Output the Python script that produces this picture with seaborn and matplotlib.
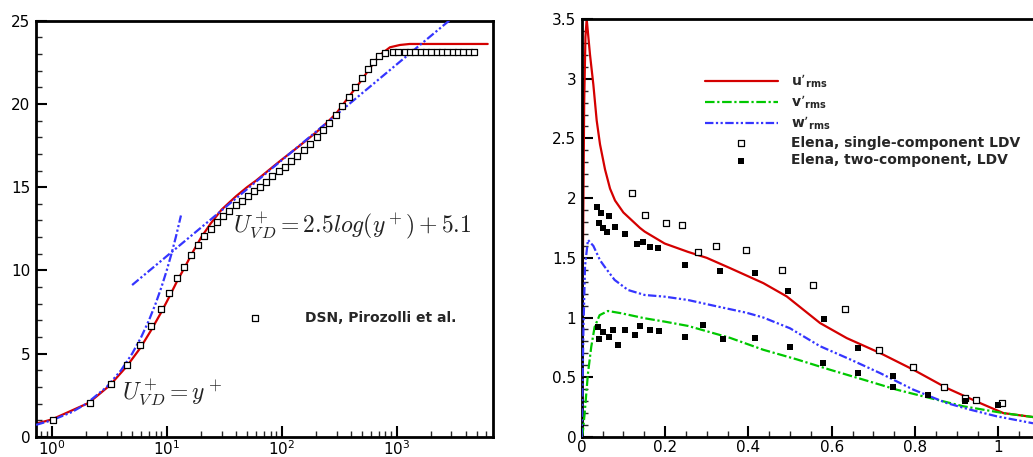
import numpy as np
import matplotlib
matplotlib.use("Agg")
import matplotlib.pyplot as plt
import matplotlib.ticker as mticker
import seaborn as sns

# ---------------- left panel: mean velocity profile ----------------
# computed profile (y+, U+_VD)
les_yplus = [0.73, 1.0, 2.1, 3.2, 4.5, 5.9, 7.3, 8.9, 10.5, 12.3, 14.5, 17, 20, 24, 30,
             40, 50, 60, 75, 100, 144, 200, 250, 300, 367, 480, 586, 716, 875, 1069,
             1300, 6200]
les_u = [0.8, 1.05, 2.05, 3.1, 4.25, 5.35, 6.4, 7.45, 8.4, 9.35, 10.25, 11.15, 12.0,
         12.8, 13.65, 14.45, 15.0, 15.4, 15.95, 16.65, 17.5, 18.3, 18.9, 19.45, 20.25,
         21.3, 22.15, 22.94, 23.4, 23.54, 23.6, 23.6]

# DNS reference data
dns_yplus = [1.03, 2.13, 3.27, 4.5, 5.89, 7.29, 8.85, 10.4, 12.2, 14.1, 16.3, 18.7, 21.2,
             24.1, 27.4, 31.1, 35.1, 39.8, 45.2, 51, 58, 64.9, 73.2, 83.2, 94.4, 106,
             121, 137, 156, 178, 201, 227, 259, 296, 337, 385, 437, 496, 563, 626, 706,
             796, 923, 1026, 1175, 1306, 1452, 1617, 1797, 1999, 2228, 2477, 2754, 3068,
             3412, 3795, 4227, 4700]
dns_u = [1.0, 2.04, 3.2, 4.3, 5.52, 6.64, 7.68, 8.62, 9.52, 10.2, 10.9, 11.5, 12.06,
         12.48, 12.9, 13.28, 13.6, 13.92, 14.18, 14.5, 14.76, 15.0, 15.34, 15.68, 15.96,
         16.22, 16.56, 16.88, 17.24, 17.6, 18.0, 18.44, 18.84, 19.34, 19.88, 20.44,
         21.04, 21.56, 22.08, 22.54, 22.88, 23.04, 23.1, 23.1, 23.1, 23.1, 23.1, 23.1,
         23.1, 23.1, 23.1, 23.1, 23.1, 23.1, 23.1, 23.1, 23.1, 23.1]

# wall laws: U+ = y+ (viscous sublayer) and U+ = 2.5 ln(y+) + 5.1 (log layer)
visc_yplus = [0.73, 1.0, 1.5, 2.0, 3.0, 4.0, 5.0, 6.0, 7.0, 8.0, 9.0, 10.0, 11.0, 12.0, 13.3]
log_yplus = [5.0, 3400.0]
kappa_inv = 2.5
log_const = 5.1

# ---------------- right panel: rms velocity fluctuations ----------------
urms_x = [0, 0.003, 0.006, 0.009, 0.012, 0.02, 0.028, 0.036, 0.044, 0.056, 0.068, 0.08,
          0.1, 0.14, 0.151, 0.199, 0.255, 0.3, 0.356, 0.436, 0.492, 0.572, 0.636, 0.716,
          0.796, 0.876, 0.956, 1.012, 1.083]
urms_y = [0, 1.5, 2.8, 3.35, 3.5, 3.2, 2.95, 2.65, 2.45, 2.24, 2.08, 1.98, 1.88, 1.75,
          1.72, 1.62, 1.55, 1.5, 1.414, 1.288, 1.177, 0.954, 0.828, 0.703, 0.563, 0.41,
          0.284, 0.2, 0.167]

vrms_x = [0, 0.003, 0.0072, 0.015, 0.023, 0.031, 0.043, 0.063, 0.095, 0.151, 0.199,
          0.255, 0.356, 0.436, 0.516, 0.596, 0.676, 0.756, 0.836, 0.916, 1.012, 1.083]
vrms_y = [0, 0.05, 0.2, 0.53, 0.756, 0.92, 1.02, 1.055, 1.036, 0.994, 0.966, 0.93, 0.83,
          0.73, 0.65, 0.563, 0.48, 0.396, 0.326, 0.257, 0.2, 0.167]

wrms_x = [0, 0.002, 0.004, 0.008, 0.015, 0.028, 0.044, 0.055, 0.079, 0.111, 0.151, 0.199,
          0.255, 0.316, 0.396, 0.436, 0.5, 0.572, 0.644, 0.716, 0.796, 0.876, 0.932,
          0.996, 1.083]
wrms_y = [0, 0.4, 0.87, 1.43, 1.65, 1.6, 1.48, 1.426, 1.315, 1.231, 1.189, 1.175, 1.147,
          1.1, 1.04, 1.0, 0.91, 0.76, 0.65, 0.535, 0.396, 0.284, 0.229, 0.173, 0.115]

# Elena, single-component LDV
ldv1_x = [0.12, 0.152, 0.2015, 0.2407, 0.279, 0.322, 0.395, 0.48, 0.554, 0.633, 0.714,
          0.796, 0.870, 0.92, 0.947, 1.009]
ldv1_y = [2.04, 1.861, 1.794, 1.772, 1.548, 1.603, 1.564, 1.40, 1.272, 1.074, 0.725,
          0.583, 0.418, 0.325, 0.307, 0.287]

# Elena, two-component LDV (streamwise and wall-normal components)
ldv2_u_x = [0.037, 0.047, 0.065, 0.042, 0.052, 0.061, 0.081, 0.103, 0.132, 0.146, 0.165,
            0.184, 0.249, 0.333, 0.417, 0.494, 0.582, 0.662, 0.746, 0.831, 0.92, 1.0]
ldv2_u_y = [1.923, 1.873, 1.85, 1.79, 1.75, 1.717, 1.76, 1.697, 1.616, 1.633, 1.588,
            1.58, 1.44, 1.389, 1.372, 1.221, 0.987, 0.745, 0.51, 0.351, 0.304, 0.268]
ldv2_v_x = [0.039, 0.042, 0.052, 0.066, 0.076, 0.088, 0.103, 0.129, 0.141, 0.165, 0.186,
            0.249, 0.292, 0.338, 0.417, 0.501, 0.58, 0.664, 0.746]
ldv2_v_y = [0.924, 0.818, 0.877, 0.835, 0.893, 0.768, 0.893, 0.852, 0.927, 0.893, 0.885,
            0.835, 0.937, 0.82, 0.828, 0.753, 0.619, 0.535, 0.418]

legend_labels = [r"u’$_{\mathbf{rms}}$", r"v’$_{\mathbf{rms}}$", r"w’$_{\mathbf{rms}}$",
                 "Elena, single-component LDV", "Elena, two-component, LDV"]

# ---------------- styling ----------------
sns.set_style("ticks")
plt.rcParams["font.family"] = ["DejaVu Sans"]
plt.rcParams["mathtext.fontset"] = "dejavusans"

RED = "#d40000"
GREEN = "#00c800"
BLUE = "#3535ff"
DASHDOT = (0, (4.3, 1.2, 1.0, 1.2))
DASHDOTDOT = (0, (3.8, 1.1, 1.0, 1.1, 1.0, 1.1))
LW = 1.6

fig = plt.figure(figsize=(10.33, 4.57), dpi=100)
axL = fig.add_axes([0.0349, 0.0438, 0.4424, 0.911])
axR = fig.add_axes([0.5631, 0.0438, 0.4369, 0.9147])

# ---- left panel ----
axL.set_xscale("log")
sns.lineplot(x=les_yplus, y=les_u, ax=axL, color=RED, lw=LW, sort=False,
             estimator=None, zorder=2)
visc_u = list(visc_yplus)
sns.lineplot(x=visc_yplus, y=visc_u, ax=axL, color=BLUE, lw=LW, sort=False,
             estimator=None, linestyle=DASHDOTDOT, zorder=3)
log_u = [kappa_inv * np.log(y) + log_const for y in log_yplus]
sns.lineplot(x=log_yplus, y=log_u, ax=axL, color=BLUE, lw=LW, sort=False,
             estimator=None, linestyle=DASHDOTDOT, zorder=3)
sns.scatterplot(x=dns_yplus, y=dns_u, ax=axL, marker="s", s=18, facecolor="white",
                edgecolor="black", linewidth=0.9, zorder=4,
                label="DSN, Pirozolli et al.")

axL.set_xlim(0.73, 6900)
axL.set_ylim(0, 25)
axL.yaxis.set_major_locator(mticker.MultipleLocator(5))
axL.yaxis.set_minor_locator(mticker.MultipleLocator(1))
axL.xaxis.set_major_locator(mticker.LogLocator(base=10, numticks=10))
axL.xaxis.set_minor_locator(mticker.LogLocator(base=10, subs=np.arange(2, 10), numticks=20))
axL.xaxis.set_minor_formatter(mticker.NullFormatter())
axL.yaxis.set_major_formatter(mticker.StrMethodFormatter("{x:g}"))

axL.text(37.7, 12.25, r"$U^+_{V\,D} = 2.5log(y^+) + 5.1$", fontsize=17,
         math_fontfamily="cm", ha="left", va="baseline", color="#222222")
axL.text(4.09, 2.22, r"$U^+_{V\,D} = y^+$", fontsize=17,
         math_fontfamily="cm", ha="left", va="baseline", color="#222222")

axL.legend(loc="center left", bbox_to_anchor=(0.449, 0.286), frameon=False,
           prop=dict(weight="bold", size=10), handlelength=2.0, handletextpad=2.6,
           borderaxespad=0, borderpad=0, scatterpoints=1)

# ---- right panel ----
sns.lineplot(x=urms_x, y=urms_y, ax=axR, color=RED, lw=LW, sort=False,
             estimator=None, label=legend_labels[0], zorder=2)
sns.lineplot(x=vrms_x, y=vrms_y, ax=axR, color=GREEN, lw=LW, sort=False,
             estimator=None, linestyle=DASHDOT, label=legend_labels[1], zorder=3)
sns.lineplot(x=wrms_x, y=wrms_y, ax=axR, color=BLUE, lw=LW, sort=False,
             estimator=None, linestyle=DASHDOTDOT, label=legend_labels[2], zorder=3)
sns.scatterplot(x=ldv1_x, y=ldv1_y, ax=axR, marker="s", s=18, facecolor="white",
                edgecolor="black", linewidth=0.9, zorder=4, label=legend_labels[3])
sns.scatterplot(x=ldv2_u_x + ldv2_v_x, y=ldv2_u_y + ldv2_v_y, ax=axR, marker="s", s=24,
                color="black", linewidth=0, zorder=4, label=legend_labels[4])

axR.set_xlim(0, 1.083)
axR.set_ylim(0, 3.5)
axR.xaxis.set_major_locator(mticker.MultipleLocator(0.2))
axR.xaxis.set_minor_locator(mticker.MultipleLocator(0.05))
axR.yaxis.set_major_locator(mticker.MultipleLocator(0.5))
axR.yaxis.set_minor_locator(mticker.MultipleLocator(0.1))
axR.xaxis.set_major_formatter(mticker.StrMethodFormatter("{x:g}"))
axR.yaxis.set_major_formatter(mticker.StrMethodFormatter("{x:g}"))
axR.spines["right"].set_visible(False)

axR.legend(loc="center left", bbox_to_anchor=(0.273, 0.758), frameon=False,
           prop=dict(weight="bold", size=10), handlelength=5.25, handletextpad=0.95,
           borderaxespad=0, borderpad=0, labelspacing=0.25, scatterpoints=1)

for ax in (axL, axR):
    ax.set_xlabel("")
    ax.set_ylabel("")
    ax.tick_params(which="major", direction="in", length=8, width=1.5, labelsize=11,
                   top=False, right=False, pad=4, colors="black")
    ax.tick_params(axis="x", which="major", pad=2)
    ax.tick_params(which="minor", direction="in", length=4, width=1.0,
                   top=False, right=False)
    for sp in ax.spines.values():
        sp.set_linewidth(2.0)
        sp.set_color("black")

fig.savefig("out.png", dpi=100)
